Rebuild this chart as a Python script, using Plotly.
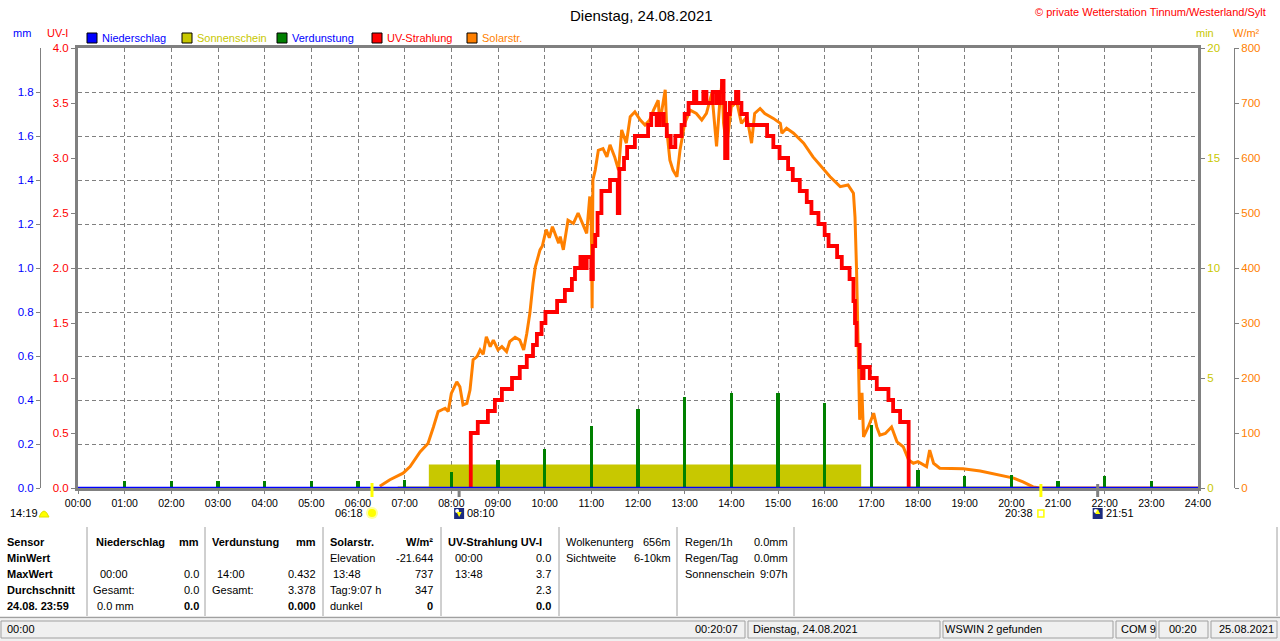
import plotly.graph_objects as go

W, H = 1280, 641

# --- Daten -------------------------------------------------------------------
hour_labels = [f"{h:02d}:00" for h in range(25)]

# UV-Strahlung (UV-I), Stufenwerte
uv_time = ["08:25", "08:25", "08:34", "08:47", "08:56", "09:05", "09:18", "09:28",
           "09:37", "09:45", "09:50", "09:56", "10:01", "10:16", "10:26", "10:35",
           "10:39", "10:46", "10:50", "10:54", "11:00", "11:02", "11:05", "11:08",
           "11:13", "11:24", "11:34", "11:36", "11:42", "11:46", "11:56", "12:13",
           "12:17", "12:24", "12:28", "12:33", "12:37", "12:42", "12:48", "12:56",
           "13:00", "13:05", "13:12", "13:15", "13:24", "13:28", "13:36", "13:41",
           "13:45", "13:48", "13:50", "13:52", "13:55", "13:58", "14:06", "14:09",
           "14:13", "14:20", "14:46", "14:54", "15:02", "15:13", "15:19", "15:28",
           "15:37", "15:43", "15:52", "16:00", "16:05", "16:16", "16:22", "16:32",
           "16:37", "16:39", "16:41", "16:45", "16:48", "16:50", "16:58", "17:07",
           "17:22", "17:28", "17:37", "17:48", "17:48"]
uv_val = [0.0, 0.5, 0.6, 0.7, 0.8, 0.9, 1.0, 1.1,
          1.2, 1.3, 1.4, 1.5, 1.6, 1.7, 1.8, 1.9,
          2.0, 2.1, 2.0, 2.1, 1.9, 2.2, 2.3, 2.5,
          2.7, 2.8, 2.5, 2.9, 3.0, 3.1, 3.2, 3.3,
          3.4, 3.3, 3.4, 3.3, 3.2, 3.1, 3.2, 3.3,
          3.4, 3.5, 3.6, 3.5, 3.6, 3.5, 3.6, 3.5,
          3.6, 3.7, 3.5, 3.0, 3.4, 3.5, 3.6, 3.5,
          3.4, 3.3, 3.2, 3.1, 3.0, 2.9, 2.8, 2.7,
          2.6, 2.5, 2.4, 2.3, 2.2, 2.1, 2.0, 1.9,
          1.7, 1.5, 1.3, 1.1, 1.0, 1.1, 1.0, 0.9,
          0.8, 0.7, 0.6, 0.6, 0.0]

# Solarstrahlung (W/m²)
solar_time = ["06:28", "06:41", "06:58", "07:07", "07:20", "07:30", "07:37", "07:43",
              "07:52", "07:56", "08:00", "08:07", "08:11", "08:15", "08:20", "08:24",
              "08:28", "08:33", "08:37", "08:41", "08:45", "08:50", "08:54", "09:00",
              "09:05", "09:11", "09:15", "09:22", "09:28", "09:33", "09:37", "09:41",
              "09:45", "09:48", "09:54", "09:57", "10:02", "10:06", "10:10", "10:14",
              "10:18", "10:20", "10:24", "10:30", "10:37", "10:43", "10:50", "10:54",
              "10:58", "11:00", "11:01", "11:02", "11:05", "11:09", "11:15", "11:20",
              "11:24", "11:30", "11:35", "11:39", "11:45", "11:50", "11:56", "12:03",
              "12:09", "12:15", "12:20", "12:26", "12:28", "12:33", "12:35", "12:37",
              "12:41", "12:45", "12:50", "12:54", "13:00", "13:07", "13:15", "13:22",
              "13:28", "13:35", "13:41", "13:45", "13:48", "13:50", "13:54", "14:00",
              "14:07", "14:13", "14:20", "14:26", "14:30", "14:37", "14:43", "14:54",
              "15:03", "15:05", "15:11", "15:20", "15:33", "15:45", "15:58", "16:07",
              "16:20", "16:30", "16:37", "16:39", "16:41", "16:43", "16:45", "16:48",
              "16:50", "16:56", "17:03", "17:07", "17:11", "17:18", "17:26", "17:33",
              "17:41", "17:48", "17:54", "18:00", "18:11", "18:15", "18:20", "18:28",
              "18:58", "19:20", "19:45", "20:03", "20:15", "20:28", "20:37", "24:00"]
solar_val = [3, 15, 27, 39, 66, 81, 111, 139,
             145, 139, 172, 193, 184, 151, 154, 178,
             233, 239, 251, 243, 275, 257, 269, 251,
             257, 248, 266, 274, 269, 251, 281, 318,
             372, 402, 433, 440, 470, 455, 475, 460,
             445, 457, 433, 487, 481, 500, 475, 463,
             530, 475, 327, 560, 578, 614, 617, 602,
             624, 602, 578, 651, 627, 675, 684, 669,
             660, 669, 687, 705, 663, 705, 724, 651,
             596, 578, 566, 614, 663, 687, 681, 669,
             681, 718, 621, 699, 737, 663, 621, 693,
             702, 663, 675, 627, 681, 690, 681, 672,
             663, 645, 654, 645, 627, 602, 581, 566,
             548, 551, 536, 493, 396, 245, 124, 173,
             93, 111, 136, 111, 96, 99, 111, 84,
             75, 51, 45, 48, 39, 69, 45, 36,
             35, 31, 24, 18, 11, 2, 0, 0]

# Sonnenschein (min)
sun_time = ["06:51", "07:33", "16:45", "20:28"]
sun_val = [0.0, 1.0, 0.0, 0.0]

# Verdunstung (mm), Stundenwerte
evap_time = [f"{h:02d}:00" for h in range(1, 24)]
evap_val = [0.03, 0.03, 0.03, 0.03, 0.03, 0.03, 0.035, 0.075, 0.127, 0.177, 0.283,
            0.36, 0.414, 0.432, 0.43, 0.386, 0.286, 0.08, 0.055, 0.06, 0.03, 0.055, 0.033]

# Niederschlag (mm)
rain_time = ["00:00", "24:00"]
rain_val = [0.0, 0.0]

# Astro-Zeiten
sunrise, sunset = "06:18", "20:38"
moonset, moonrise = "08:10", "21:51"
day_length = "14:19"

uv_ticks = [i * 0.5 for i in range(9)]
mm_ticks = [i * 0.2 for i in range(10)]
min_ticks = [0, 5, 10, 15, 20]
solar_ticks = list(range(0, 801, 100))

legend_names = ["Niederschlag", "Sonnenschein", "Verdunstung", "UV-Strahlung", "Solarstr."]
legend_box = ["#0000ff", "#c8c800", "#008000", "#ff0000", "#ff8000"]
legend_text = ["#0000ff", "#c8c800", "#0000ff", "#ff0000", "#ff8000"]

sensor_rows = ["Sensor", "MinWert", "MaxWert", "Durchschnitt", "24.08. 23:59"]
rain_left = ["<b>Niederschlag</b>", "", "00:00", "Gesamt:", "0.0 mm"]
rain_right = ["<b>mm</b>", "", "0.0", "0.0", "<b>0.0</b>"]
evap_left = ["<b>Verdunstung</b>", "", "14:00", "Gesamt:", ""]
evap_right = ["<b>mm</b>", "", "0.432", "3.378", "<b>0.000</b>"]
solar_left = ["<b>Solarstr.</b>", "Elevation", "13:48", "Tag:9:07 h", "dunkel"]
solar_right = ["<b>W/m²</b>", "-21.644", "737", "347", "<b>0</b>"]
uvt_left = ["<b>UV-Strahlung UV-I</b>", "00:00", "13:48", "", ""]
uvt_right = ["", "0.0", "3.7", "2.3", "<b>0.0</b>"]
cloud_left = ["Wolkenunterg", "Sichtweite"]
cloud_right = ["656m", "6-10km"]
misc_left = ["Regen/1h", "Regen/Tag", "Sonnenschein"]
misc_right = ["0.0mm", "0.0mm", "9:07h"]

status_texts = ["00:00", "00:20:07", "Dienstag, 24.08.2021", "WSWIN 2 gefunden",
                "COM 9", "00:20", "25.08.2021"]


def hrs(t):
    h, m = t.split(":")
    return int(h) + int(m) / 60


def px(x):
    return x / W


def py(y):
    return 1 - y / H


FONT = "Liberation Sans, Arial, sans-serif"
X0, X1 = 78, 1198
Y0, Y1 = 48, 488
PPH = (X1 - X0) / 24  # pixel pro Stunde

fig = go.Figure()

fig.add_trace(go.Scatter(x=[hrs(t) for t in sun_time], y=sun_val, yaxis="y",
                         mode="lines", line=dict(color="#c8c800", width=3, shape="hv"),
                         fill="tozeroy", fillcolor="#c8c800", name="Sonnenschein"))
fig.add_trace(go.Scatter(x=[hrs(t) for t in solar_time], y=solar_val, yaxis="y2",
                         mode="lines", line=dict(color="#ff8000", width=3), name="Solarstr."))
fig.add_trace(go.Scatter(x=[hrs(t) for t in uv_time], y=uv_val, yaxis="y3",
                         mode="lines", line=dict(color="#ff0000", width=3.8, shape="hv"),
                         name="UV-Strahlung"))
fig.add_trace(go.Bar(x=[hrs(t) for t in evap_time], y=evap_val, yaxis="y4", width=0.075,
                     marker=dict(color="#008000", line=dict(width=0)), name="Verdunstung"))
fig.add_trace(go.Scatter(x=[hrs(t) for t in rain_time], y=rain_val, yaxis="y4",
                         mode="lines", line=dict(color="#0000ff", width=2.5), name="Niederschlag"))

axis_common = dict(showgrid=False, zeroline=False, ticks="outside", ticklen=4,
                   tickcolor="#808080", fixedrange=True)

fig.update_layout(
    width=W, height=H, autosize=False, margin=dict(l=0, r=0, t=0, b=0),
    paper_bgcolor="white", plot_bgcolor="white", showlegend=False, template="none",
    font=dict(family=FONT, size=11, color="black"), bargap=0,
    xaxis=dict(domain=[px(X0), px(X1)], range=[0, 24], tickvals=list(range(25)),
               ticktext=hour_labels, showgrid=True, gridcolor="#808080", gridwidth=1,
               griddash="4px,3px", showline=True, linecolor="#808080", linewidth=3,
               mirror=True, ticks="outside", ticklen=3, tickcolor="#808080",
               tickfont=dict(size=10.5, color="black"), zeroline=False, fixedrange=True),
    yaxis=dict(domain=[py(Y1), py(Y0)], range=[0, 20], side="right", tickvals=min_ticks,
               tickfont=dict(size=11.5, color="#c8c800"), showline=True,
               linecolor="#808080", linewidth=3, **axis_common),
    yaxis2=dict(overlaying="y", side="right", anchor="free", position=px(1234),
                range=[0, 800], tickvals=solar_ticks, tickfont=dict(size=11.5, color="#ff8000"),
                showline=True, linecolor="#808080", linewidth=1, **axis_common),
    yaxis3=dict(overlaying="y", side="left", anchor="x", range=[0, 4], tickvals=uv_ticks,
                tickformat=".1f", tickfont=dict(size=11.5, color="#ff0000"),
                showline=True, linecolor="#808080", linewidth=3, **axis_common),
    yaxis4=dict(overlaying="y", side="left", anchor="free", position=px(40), range=[0, 2],
                tickvals=mm_ticks, tickformat=".1f", tickfont=dict(size=11.5, color="#0000ff"),
                showline=True, linecolor="#808080", linewidth=1, ticks="outside", ticklen=4,
                tickcolor="#808080", showgrid=True, gridcolor="#808080", gridwidth=1,
                griddash="4px,3px", zeroline=False, fixedrange=True),
)

ann = []
shapes = []


def text(x, y, s, color="black", size=11, anchor="left", xref="paper"):
    ann.append(dict(x=x if xref == "x" else px(x), y=py(y), xref=xref, yref="paper",
                    text=s, showarrow=False, xanchor=anchor, yanchor="middle",
                    font=dict(family=FONT, color=color, size=size)))


# Titel und Kopf
text(641, 15, "Dienstag, 24.08.2021", size=15, anchor="center")
text(1268, 12, "© private Wetterstation Tinnum/Westerland/Sylt", color="#ff0000",
     size=11, anchor="right")
text(22, 33, "mm", color="#0000ff", anchor="center")
text(57, 33, "UV-I", color="#ff0000", anchor="center")
text(1205, 33, "min", color="#c8c800", anchor="center")
text(1246, 33, "W/m²", color="#ff8000", anchor="center")

legend_x = [87, 182, 277, 372, 467]
for lx, name, bc, tc in zip(legend_x, legend_names, legend_box, legend_text):
    shapes.append(dict(type="rect", xref="paper", yref="paper", x0=px(lx), x1=px(lx + 10),
                       y0=py(43), y1=py(33), fillcolor=bc, line=dict(color="black", width=1)))
    text(lx + 13, 38, name, color=tc)

# Sonnen- und Mondmarken an der Zeitachse
for t, col, top in [(sunrise, "#ffff00", 483), (sunset, "#ffff00", 484),
                    (moonset, "#808080", 489), (moonrise, "#808080", 484)]:
    shapes.append(dict(type="line", xref="x", yref="paper", x0=hrs(t), x1=hrs(t),
                       y0=py(top), y1=py(497), line=dict(color=col, width=3)))

text(8, 513, day_length)
shapes.append(dict(type="path", xref="paper", yref="paper",
                   path=f"M {px(39)},{py(517)} Q {px(44)},{py(505)} {px(49)},{py(517)} Z",
                   fillcolor="#ffff00", line=dict(color="#e0e000", width=1)))

sr = hrs(sunrise)
d = 1 / PPH
shapes.append(dict(type="circle", xref="x", yref="paper", x0=sr - 6 * d, x1=sr + 6 * d,
                   y0=py(519), y1=py(507), fillcolor="#ffffa0", line=dict(width=0)))
shapes.append(dict(type="circle", xref="x", yref="paper", x0=sr - 4 * d, x1=sr + 4 * d,
                   y0=py(517), y1=py(509), fillcolor="#ffff00", line=dict(width=0)))
text(sr - 7 * d, 513, sunrise, anchor="right", xref="x")

ss = hrs(sunset)
shapes.append(dict(type="rect", xref="x", yref="paper", x0=ss - 3 * d, x1=ss + 3 * d,
                   y0=py(517), y1=py(510), fillcolor="white", line=dict(color="#ffff00", width=1.5)))
text(ss - 6 * d, 513, sunset, anchor="right", xref="x")

for t, up in [(moonset, False), (moonrise, True)]:
    m = hrs(t)
    shapes.append(dict(type="rect", xref="x", yref="paper", x0=m - 5 * d, x1=m + 5 * d,
                       y0=py(519), y1=py(508), fillcolor="#1c2b7f", line=dict(width=0)))
    shapes.append(dict(type="circle", xref="x", yref="paper", x0=m - 4 * d, x1=m,
                       y0=py(513), y1=py(509), fillcolor="white", line=dict(width=0)))
    tip, base = (509, 517) if up else (517, 509)
    shapes.append(dict(type="path", xref="x", yref="paper",
                       path=f"M {m - 2.5 * d},{py(base + (3 if not up else -3))} "
                            f"L {m + 2.5 * d},{py(base + (3 if not up else -3))} "
                            f"L {m},{py(tip)} Z",
                       fillcolor="#ffff00", line=dict(width=0)))
    text(m + 6 * d, 513, t, xref="x")

# Tabelle unten
rows_y = [541.5, 558, 574.3, 590.3, 606]
for s, y in zip(sensor_rows, rows_y):
    text(5, y, f"<b>{s}</b>")

blocks = [
    (rain_left, rain_right, [94, 94, 98, 91, 95], 201),
    (evap_left, evap_right, [210, 210, 215, 210, 210], 318),
    (solar_left, solar_right, [328, 328, 331, 328, 328], 435),
    (uvt_left, uvt_right, [446, 453, 453, 453, 453], 553),
    (cloud_left, cloud_right, [564, 564], 673),
    (misc_left, misc_right, [683, 683, 683], 790),
]
for left, right, lxs, rx, in blocks:
    for i, (ls, rs) in enumerate(zip(left, right)):
        if ls:
            text(lxs[i], rows_y[i], ls)
        if rs:
            text(rx, rows_y[i], rs, anchor="right")

for sx in [87, 205, 323, 441, 559, 677, 794, 1277]:
    shapes.append(dict(type="line", xref="paper", yref="paper", x0=px(sx), x1=px(sx),
                       y0=py(527), y1=py(616), line=dict(color="#a0a0a0", width=1)))
shapes.append(dict(type="line", xref="paper", yref="paper", x0=0, x1=px(1280),
                   y0=py(617.5), y1=py(617.5), line=dict(color="#a0a0a0", width=1.5)))

# Statusleiste
shapes.append(dict(type="rect", xref="paper", yref="paper", x0=0, x1=1, y0=0, y1=py(619),
                   fillcolor="#f0f0f0", line=dict(width=0), layer="below"))
panels = [(1, 745), (748, 940), (943, 1113), (1116, 1156), (1159, 1208), (1211, 1277)]
for a, b in panels:
    shapes.append(dict(type="rect", xref="paper", yref="paper", x0=px(a), x1=px(b),
                       y0=py(638), y1=py(621), line=dict(color="#a0a0a0", width=1)))
status_pos = [(5, "left"), (740, "right"), (751, "left"), (943, "left"),
              (1119, "left"), (1183, "center"), (1217, "left")]
for s, (sx, anc) in zip(status_texts, status_pos):
    text(sx, 629, s, anchor=anc)

fig.update_layout(annotations=ann, shapes=shapes)
fig.write_html("out.html", config={"displayModeBar": False},
               post_script="document.body.style.margin='0';"
                           "document.body.style.overflow='hidden';")
